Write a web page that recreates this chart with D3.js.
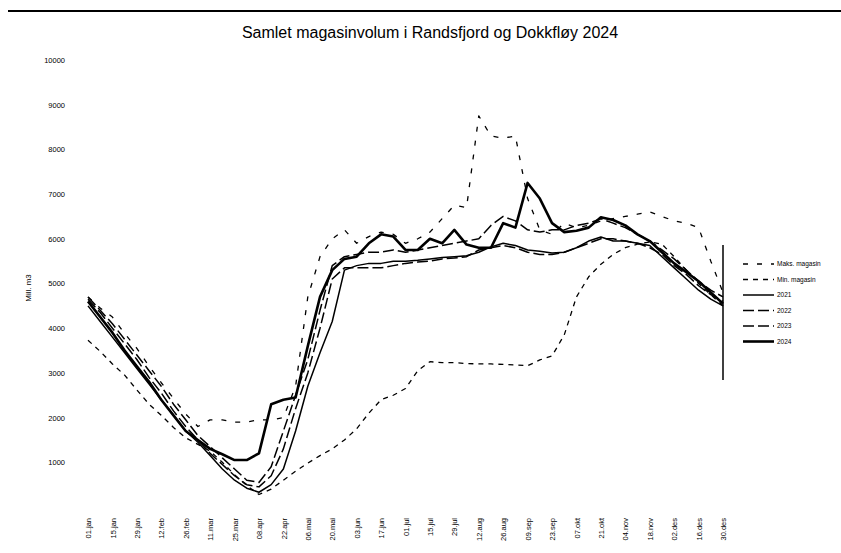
<!DOCTYPE html>
<html>
<head>
<meta charset="utf-8">
<script src="https://cdn.jsdelivr.net/npm/d3@7"></script>
<style>
  body { margin: 0; background: #fff; }
  svg { display: block; font-family: "Liberation Sans", Arial, sans-serif; }
</style>
</head>
<body>
<div id="chart"></div>
<script>
// x-axis tick labels (every 14 days)
const dateLabels = ["01.jan","15.jan","29.jan","12.feb","26.feb","11.mar","25.mar","08.apr","22.apr",
  "06.mai","20.mai","03.jun","17.jun","01.jul","15.jul","29.jul","12.aug","26.aug","09.sep","23.sep",
  "07.okt","21.okt","04.nov","18.nov","02.des","16.des","30.des"];

const yTicks = [1000, 2000, 3000, 4000, 5000, 6000, 7000, 8000, 9000, 10000];

// weekly values, week 0..52
const maksMagasin = [4700,4450,4250,3880,3550,3150,2780,2430,2080,1800,1950,1950,1900,1900,1950,1950,
  2000,2700,4700,5600,6000,6200,5900,6050,6150,6100,5900,6000,6150,6450,6750,6700,8750,8300,8250,8300,
  6900,6200,6100,6350,6250,6300,6400,6450,6500,6550,6600,6500,6400,6350,6250,5500,4800];
const minMagasin = [3730,3480,3200,2950,2620,2300,2050,1780,1550,1400,1250,1000,720,480,280,400,600,800,
  980,1150,1300,1500,1750,2100,2400,2500,2650,3050,3250,3230,3230,3210,3200,3200,3190,3180,3160,3290,
  3380,3850,4700,5150,5430,5650,5800,5880,5930,5880,5600,5300,5000,4750,4500];
const y2021 = [4500,4150,3800,3450,3100,2750,2400,2050,1700,1450,1150,850,600,420,330,500,850,1700,2700,
  3450,4150,5300,5400,5450,5450,5500,5500,5520,5550,5580,5600,5620,5700,5820,5900,5850,5750,5720,5680,
  5700,5800,5950,6040,5950,5950,5900,5850,5600,5350,5100,4850,4650,4500];
const y2022 = [4650,4350,4000,3650,3300,2900,2550,2150,1800,1500,1200,950,700,500,450,700,1300,2200,3000,
  4000,5100,5350,5350,5350,5350,5400,5450,5480,5500,5550,5570,5600,5750,5800,5850,5800,5700,5650,5650,
  5700,5800,5900,6000,6000,5950,5900,5800,5650,5400,5200,4950,4750,4600];
const y2023 = [4700,4400,4100,3750,3400,3050,2700,2300,1950,1600,1350,1100,850,600,550,900,1700,2500,3300,
  4400,5400,5600,5650,5700,5700,5750,5700,5750,5800,5850,5900,5950,6000,6300,6500,6400,6200,6150,6200,
  6200,6300,6350,6450,6350,6250,6100,5950,5750,5550,5300,5050,4850,4700];
const y2024 = [4600,4250,3900,3500,3150,2800,2400,2050,1700,1500,1300,1180,1050,1050,1200,2300,2400,2450,
  3600,4700,5300,5550,5600,5900,6100,6050,5750,5750,6000,5900,6200,5870,5800,5800,6350,6250,7250,6900,
  6350,6150,6180,6250,6480,6420,6300,6100,5950,5700,5450,5250,5050,4800,4550];

const seriesNames = ["Maks. magasin", "Min. magasin", "2021", "2022", "2023", "2024"];
const seriesData = [maksMagasin, minMagasin, y2021, y2022, y2023, y2024];
const seriesStyle = [
  { dash: "5,9", width: 1.3 },
  { dash: "5,5", width: 1.3 },
  { dash: null, width: 1.5 },
  { dash: "11,4", width: 1.5 },
  { dash: "11,4", width: 1.5 },
  { dash: null, width: 2.6 }
];

const width = 841, height = 553;
const margin = { left: 88, right: 118, top: 60, bottom: 46 };

const svg = d3.select("#chart").append("svg")
  .attr("width", width)
  .attr("height", height);

// top border
svg.append("line")
  .attr("x1", 8).attr("x2", width)
  .attr("y1", 11).attr("y2", 11)
  .attr("stroke", "#000").attr("stroke-width", 2);

svg.append("text")
  .attr("x", 430).attr("y", 38)
  .attr("text-anchor", "middle")
  .attr("font-size", 16)
  .text("Samlet magasinvolum i Randsfjord og Dokkfløy 2024");

const x = d3.scaleLinear()
  .domain([0, 52])
  .range([margin.left, width - margin.right]);

const xLab = d3.scalePoint()
  .domain(dateLabels)
  .range([margin.left, width - margin.right]);

const y = d3.scaleLinear()
  .domain([0, 10000])
  .range([height - margin.bottom, margin.top]);

// y axis labels
const yAxis = svg.append("g")
  .attr("transform", "translate(" + (margin.left - 23) + ",0)")
  .call(d3.axisLeft(y).tickValues(yTicks).tickFormat(d3.format("d")).tickSize(0).tickPadding(0));
yAxis.select(".domain").remove();
yAxis.selectAll("text")
  .attr("font-size", 7.5)
  .attr("font-family", "'Liberation Sans', Arial, sans-serif")
  .attr("fill", "#000");

svg.append("text")
  .attr("transform", "translate(31," + 288 + ") rotate(-90)")
  .attr("text-anchor", "middle")
  .attr("font-size", 8)
  .text("Mill. m3");

// x axis labels
const xAxis = svg.append("g")
  .attr("transform", "translate(0," + (height - margin.bottom + 10) + ")")
  .call(d3.axisBottom(xLab).tickSize(0).tickPadding(0));
xAxis.select(".domain").remove();
xAxis.selectAll("text")
  .attr("font-size", 7.5)
  .attr("font-family", "'Liberation Sans', Arial, sans-serif")
  .attr("fill", "#000")
  .attr("text-anchor", "end")
  .attr("transform", "rotate(-90)")
  .attr("x", -1)
  .attr("y", 0)
  .attr("dy", "0.35em");

const line = d3.line()
  .x((d, i) => x(i))
  .y(d => y(d));

seriesData.forEach((s, k) => {
  svg.append("path")
    .datum(s)
    .attr("fill", "none")
    .attr("stroke", "#000")
    .attr("stroke-width", seriesStyle[k].width)
    .attr("stroke-dasharray", seriesStyle[k].dash)
    .attr("stroke-linejoin", "round")
    .attr("d", line);
});

// legend
const lg = svg.append("g").attr("transform", "translate(723,245)");
lg.append("line")
  .attr("x1", 0).attr("x2", 0)
  .attr("y1", 0).attr("y2", 135)
  .attr("stroke", "#000").attr("stroke-width", 1.5);

seriesNames.forEach((name, k) => {
  const gy = 19 + k * 15.5;
  lg.append("line")
    .attr("x1", 20).attr("x2", 51)
    .attr("y1", gy).attr("y2", gy)
    .attr("stroke", "#000")
    .attr("stroke-width", seriesStyle[k].width)
    .attr("stroke-dasharray", seriesStyle[k].dash);
  lg.append("text")
    .attr("x", 54).attr("y", gy)
    .attr("dy", "0.35em")
    .attr("font-size", 6.5)
    .text(name);
});
</script>
</body>
</html>
